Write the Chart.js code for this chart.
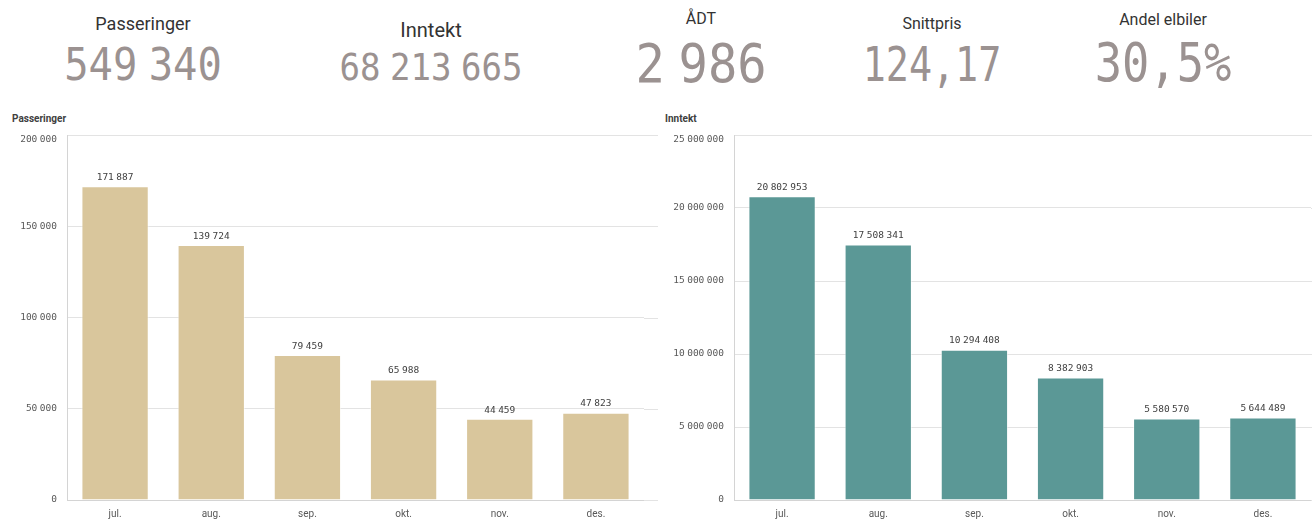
<!DOCTYPE html>
<html>
<head>
<meta charset="utf-8">
<script src="https://cdn.jsdelivr.net/npm/chart.js@4/dist/chart.umd.min.js"></script>
<style>
    body { margin: 0; background: #fff; width: 1312px; height: 521px; overflow: hidden; position: relative; font-family: Roboto, sans-serif; }
    .kl { position: absolute; white-space: nowrap; color: #333; line-height: 1; transform: translateX(-50%); }
    .kv { position: absolute; white-space: nowrap; color: #9b9291; line-height: 1; font-family: "DejaVu Sans Mono", monospace; }
    .kv .sp { letter-spacing: -0.32em; }
    .ttl { position: absolute; top: 113px; font: bold 10px Roboto, sans-serif; color: #404040; }
    .box { position: absolute; top: 110px; }
</style>
</head>
<body>
<div id="kpis"></div>
<div class="ttl" style="left:12px">Passeringer</div>
<div class="ttl" style="left:665px">Inntekt</div>
<div class="box" style="left:0"><canvas id="passChart" width="660" height="411"></canvas></div>
<div class="box" style="left:655px"><canvas id="inntChart" width="657" height="411"></canvas></div>
<script>
    "use strict";

    // KPI row
    const kpiLabels = ['Passeringer', 'Inntekt', 'ÅDT', 'Snittpris', 'Andel elbiler'];
    const kpiValues = ['549 340', '68 213 665', '2 986', '124,17', '30,5%'];

    // bar charts
    const months = ['jul.', 'aug.', 'sep.', 'okt.', 'nov.', 'des.'];
    const passeringer = [171887, 139724, 79459, 65988, 44459, 47823];
    const inntekt = [20802953, 17508341, 10294408, 8382903, 5580570, 5644489];
    const passTicks = {max: 200000, step: 50000};
    const inntTicks = {max: 25000000, step: 5000000};

    // layout of the KPI texts: center x, label size/top, value size/top, squeeze
    const kpiLayout = [
        {x: 143, ls: 18, lt: 15, vs: 45, vt: 42, sx: 0.9},
        {x: 431, ls: 20, lt: 20, vs: 37, vt: 49, sx: 0.92},
        {x: 701, ls: 16, lt: 11, vs: 53, vt: 37, sx: 0.92},
        {x: 932, ls: 16, lt: 16, vs: 48, vt: 40, sx: 0.80},
        {x: 1163, ls: 16, lt: 12, vs: 54, vt: 36, sx: 0.84},
    ];

    const kpiBox = document.getElementById('kpis');
    kpiLabels.forEach(function (label, i) {
        const l = kpiLayout[i];
        const a = document.createElement('div');
        a.className = 'kl';
        a.textContent = label;
        a.style.cssText = `left:${l.x}px;top:${l.lt}px;font-size:${l.ls}px`;
        kpiBox.appendChild(a);

        const v = document.createElement('div');
        v.className = 'kv';
        kpiValues[i].split(' ').forEach(function (part, j) {
            if (j > 0) {
                const sp = document.createElement('span');
                sp.className = 'sp';
                sp.textContent = ' ';
                v.appendChild(sp);
            }
            v.appendChild(document.createTextNode(part));
        });
        v.style.cssText = `left:${l.x}px;top:${l.vt}px;font-size:${l.vs}px;transform:translateX(-50%) scaleX(${l.sx})`;
        kpiBox.appendChild(v);
    });

    const fmt = v => String(v).replace(/\B(?=(\d{3})+(?!\d))/g, ' ');

    // digit groups with a narrow gap, like the Qlik number format
    // align: 0 = centered on x, 1 = right edge at x
    function drawGrouped(ctx, text, x, y, align) {
        const parts = text.split(' ');
        const gap = 2.5;
        const widths = parts.map(p => ctx.measureText(p).width);
        const total = widths.reduce((a, b) => a + b, 0) + gap * (parts.length - 1);
        let cx = align ? x - total : x - total / 2;
        ctx.textAlign = 'left';
        parts.forEach(function (p, i) {
            ctx.fillText(p, cx, y);
            cx += widths[i] + gap;
        });
    }

    const valueLabels = {
        id: 'valueLabels',
        afterDatasetsDraw: function (chart) {
            const ctx = chart.ctx;
            const data = chart.data.datasets[0].data;
            ctx.save();
            ctx.font = '9.5px "DejaVu Sans Mono"';
            ctx.fillStyle = '#404040';
            ctx.textBaseline = 'bottom';
            chart.getDatasetMeta(0).data.forEach(function (bar, i) {
                drawGrouped(ctx, fmt(data[i]), bar.x, bar.y - 4, 0);
            });
            ctx.restore();
        }
    };

    // y tick labels drawn from the y scale, so the thousands gap can stay narrow;
    // also the grid lines run a little past the last category
    const yAxisExtras = {
        id: 'yAxisExtras',
        afterDraw: function (chart, args, opts) {
            const ctx = chart.ctx, area = chart.chartArea, y = chart.scales.y;
            ctx.save();
            ctx.strokeStyle = '#e3e3e3';
            ctx.lineWidth = 1;
            ctx.font = '9.5px "DejaVu Sans Mono"';
            ctx.fillStyle = '#595959';
            ctx.textBaseline = 'middle';
            y.ticks.forEach(function (t, i) {
                const py = y.getPixelForTick(i);
                if (opts.extra) {
                    const ly = Math.round(py) + 0.5;
                    ctx.beginPath();
                    ctx.moveTo(area.right, ly);
                    ctx.lineTo(area.right + opts.extra, ly);
                    ctx.stroke();
                }
                drawGrouped(ctx, fmt(t.value), area.left - 10, Math.max(py, area.top + 5), 1);
            });
            ctx.restore();
        }
    };

    function makeBarChart(id, values, ticks, color, yWidth, padRight, extra) {
        new Chart(document.getElementById(id), {
            type: 'bar',
            data: {
                labels: months,
                datasets: [{
                    data: values,
                    backgroundColor: color,
                    borderColor: 'rgba(255,255,255,0.55)',
                    borderWidth: 1,
                    barPercentage: 0.7,
                    categoryPercentage: 1,
                }]
            },
            plugins: [valueLabels, yAxisExtras],
            options: {
                responsive: false,
                animation: false,
                layout: {padding: {top: 25, right: padRight, left: 0, bottom: 0}},
                plugins: {
                    legend: {display: false},
                    tooltip: {enabled: false},
                    yAxisExtras: {extra: extra},
                },
                scales: {
                    x: {
                        grid: {display: false, drawTicks: false},
                        border: {color: '#d4d4d4'},
                        ticks: {color: '#595959', font: {family: 'Roboto', size: 10}, padding: 8},
                        afterFit: function (s) { s.height = 21; }
                    },
                    y: {
                        min: 0,
                        max: ticks.max,
                        ticks: {stepSize: ticks.step, display: false},
                        grid: {color: '#e3e3e3', drawTicks: false},
                        border: {color: '#d4d4d4'},
                        afterFit: function (s) { s.width = yWidth; }
                    }
                }
            }
        });
    }

    makeBarChart('passChart', passeringer, passTicks, '#d9c69c', 67, 16, 14);
    makeBarChart('inntChart', inntekt, inntTicks, '#5b9896', 79, 1, 1);
</script>
</body>
</html>
